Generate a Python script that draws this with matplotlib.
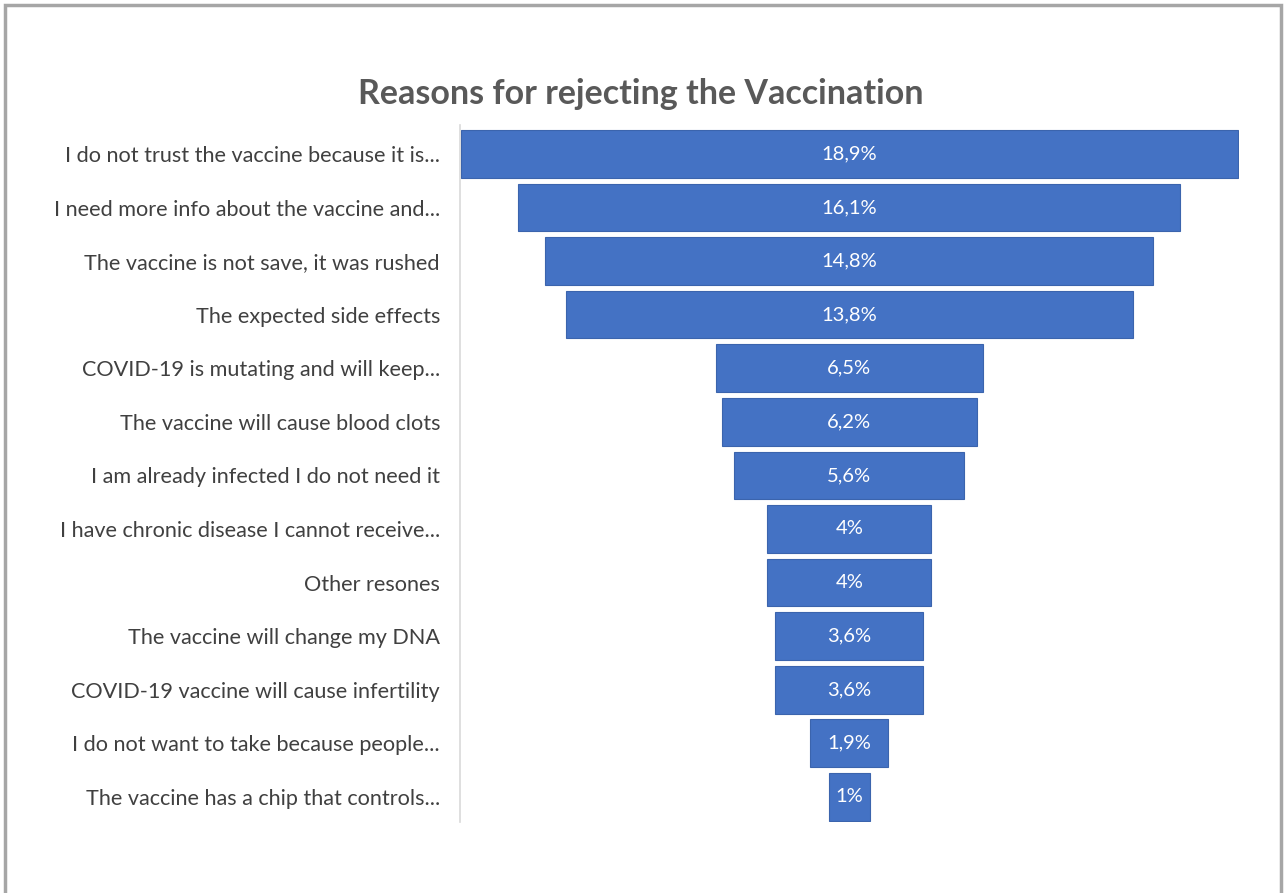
import matplotlib.pyplot as plt
from matplotlib.patches import Rectangle

plt.rcParams['font.family'] = ['Lato', 'DejaVu Sans']

reasons = [
    "I do not trust the vaccine because it is...",
    "I need more info about the vaccine and...",
    "The vaccine is not save, it was rushed",
    "The expected side effects",
    "COVID-19 is mutating and will keep...",
    "The vaccine will cause blood clots",
    "I am already infected I do not need it",
    "I have chronic disease I cannot receive...",
    "Other resones",
    "The vaccine will change my DNA",
    "COVID-19 vaccine will cause infertility",
    "I do not want to take because people...",
    "The vaccine has a chip that controls...",
]
shares = [18.9, 16.1, 14.8, 13.8, 6.5, 6.2, 5.6, 4, 4, 3.6, 3.6, 1.9, 1]
value_labels = ["18,9%", "16,1%", "14,8%", "13,8%", "6,5%", "6,2%", "5,6%",
                "4%", "4%", "3,6%", "3,6%", "1,9%", "1%"]

W, H = 1287, 893
fig = plt.figure(figsize=(W / 100, H / 100), dpi=100)

# outer frame of the picture
fig.patches.append(Rectangle((5 / W, -0.05), 1276 / W, (H - 5) / H + 0.05,
                             transform=fig.transFigure, fill=False,
                             edgecolor='#a6a6a6', linewidth=2.5))

ax = fig.add_axes([460 / W, 1 - 822 / H, 778.5 / W, 697 / H])

# funnel: bars centered on zero
lefts = [-s / 2 for s in shares]
ypos = list(range(len(reasons)))
ax.barh(ypos, shares, left=lefts, height=0.89, color='#4472c4',
        edgecolor='#3b64ad', linewidth=0.8)

for y, lab in zip(ypos, value_labels):
    ax.text(0, y, lab, ha='center', va='center', color='white', fontsize=14.5)

ax.set_xlim(-9.47, 9.47)
ax.set_ylim(12.47, -0.54)
ax.set_yticks(ypos)
ax.set_yticklabels(reasons, fontsize=15.6, color='#404040')
ax.tick_params(axis='y', length=0, pad=14.4)
ax.set_xticks([])
for side in ('top', 'right', 'bottom'):
    ax.spines[side].set_visible(False)
ax.spines['left'].set_color('#d9d9d9')
ax.spines['left'].set_linewidth(1.2)

fig.text(641 / W, 1 - 94 / H, "Reasons for rejecting the Vaccination",
         ha='center', va='center', fontsize=24.5, fontweight='bold',
         color='#595959')

fig.savefig('out.png', dpi=100)
